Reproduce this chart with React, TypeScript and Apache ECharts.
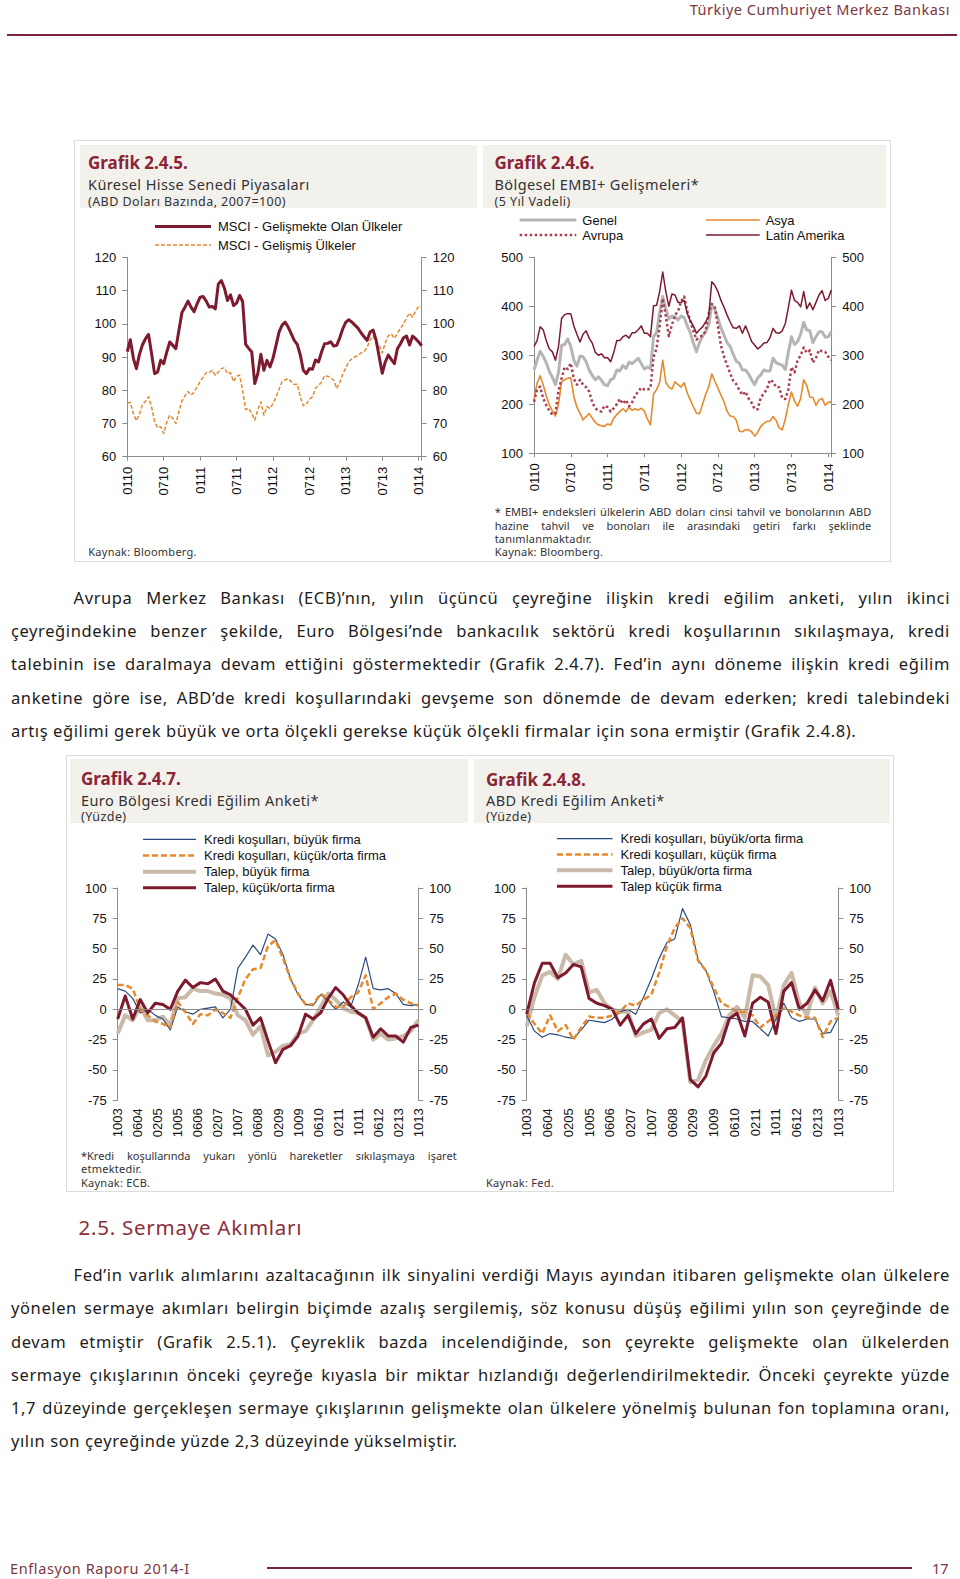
import React, { useEffect, useRef } from "react";
import * as echarts from "echarts";

// ---------------- DATA ----------------
// Grafik 2.4.5 (semi-monthly, Jan 2010 - Jan 2014)
const halfYearLabels = ["0110", "0710", "0111", "0711", "0112", "0712", "0113", "0713", "0114"];
const msciEM = [
  91.6, 95.2, 89.6, 86.5, 90.8, 93.7, 95.5, 96.8, 91.0, 85.0,
  85.5, 89.0, 88.0, 91.5, 94.5, 93.5, 92.5, 98.0, 103.4, 105.0,
  106.8, 105.0, 103.6, 106.0, 108.0, 108.2, 106.8, 105.0, 105.2, 104.5,
  112.0, 113.0, 110.7, 107.0, 108.7, 105.5, 106.2, 108.5, 106.7, 93.8,
  92.6, 91.5, 82.0, 85.0, 90.8, 86.0, 89.0, 87.0, 89.6, 93.5,
  97.5, 99.6, 100.5, 99.0, 97.0, 95.0, 93.8, 90.6, 86.0, 85.0,
  86.5, 86.3, 89.1, 88.5, 91.5, 94.0, 94.1, 94.6, 93.3, 93.5,
  95.8, 98.5, 100.5, 101.2, 100.5, 99.6, 98.7, 97.3, 96.1, 95.0,
  97.5, 98.1, 95.0, 90.0, 85.1, 88.5, 90.6, 89.2, 88.0, 92.5,
  94.0, 95.8, 96.3, 93.6, 96.3, 95.5, 94.5, 93.4,
];
const msciDeveloped = [
  76.1, 76.4, 73.0, 70.8, 72.8, 75.7, 76.7, 78.0, 75.0, 70.5,
  68.7, 69.0, 67.0, 70.3, 72.5, 71.5, 70.0, 73.5, 76.8, 78.3,
  79.6, 78.5, 79.4, 81.1, 82.6, 84.0, 85.3, 85.3, 86.0, 84.5,
  85.5, 86.5, 86.8, 85.0, 85.3, 82.6, 84.3, 84.5, 80.0, 74.2,
  74.6, 73.0, 71.0, 74.0, 76.5, 72.5, 75.1, 74.5, 76.0, 78.0,
  80.3, 82.6, 83.1, 83.5, 82.6, 81.7, 81.8, 78.0, 75.3, 75.8,
  77.3, 78.0, 80.6, 81.5, 82.4, 84.4, 84.2, 83.8, 83.0, 80.5,
  82.3, 84.8, 86.8, 88.6, 89.5, 90.0, 90.5, 91.2, 91.6, 92.9,
  95.1, 96.3, 94.1, 93.5, 91.2, 94.3, 96.4, 97.0, 95.6, 97.2,
  98.6, 99.9, 101.8, 103.2, 102.0, 103.9, 105.2, 105.2,
];

// Grafik 2.4.6 (semi-monthly)
const embiLatin = [
  318, 330, 358, 352, 330, 313, 307, 290, 318, 375,
  383, 385, 385, 360, 343, 327, 343, 350, 335, 325,
  306, 300, 303, 295, 295, 287, 305, 330, 330, 338,
  341, 335, 346, 346, 352, 360, 345, 345, 338, 401,
  402, 430, 470, 430, 400, 425, 423, 408, 408, 412,
  385, 370, 360, 345, 352, 358, 368, 380, 450, 443,
  430, 412, 398, 382, 368, 356, 355, 360, 345, 360,
  345, 328, 321, 313, 318, 325, 326, 336, 355, 346,
  345, 350, 365, 398, 433, 412, 408, 399, 430, 395,
  407, 393, 408, 423, 432, 412, 416, 433,
];
const embiGenel = [
  270, 290, 308, 298, 285, 267, 255, 240, 265, 320,
  322, 333, 318, 290, 278, 298, 297, 287, 270, 259,
  250, 256, 249, 240, 238, 250, 253, 270, 268, 279,
  273, 286, 283, 288, 294, 283, 272, 276, 273, 338,
  346, 388, 420, 395, 374, 380, 379, 372, 380, 377,
  360, 346, 325, 307, 326, 339, 348, 362, 403, 394,
  376, 356, 341, 326, 318, 302, 288, 284, 270, 270,
  262, 250, 240, 254, 260, 270, 268, 268, 294, 285,
  282, 280, 271, 306, 338, 322, 328, 343, 367, 352,
  350, 326, 338, 348, 348, 337, 338, 348,
];
const embiAvrupa = [
  205, 230, 236, 212, 198, 187, 179, 182, 228, 253,
  276, 272, 284, 252, 240, 250, 240, 235, 226, 204,
  192, 187, 185, 197, 194, 185, 192, 200, 211, 201,
  209, 196, 204, 218, 226, 234, 230, 230, 233, 296,
  315, 360, 416, 380, 339, 362, 382, 390, 410, 420,
  390, 370, 350, 332, 338, 340, 350, 385, 405, 398,
  360, 320, 297, 280, 263, 248, 241, 229, 219, 226,
  212, 203, 190, 190, 214, 222, 231, 250, 246, 235,
  235, 212, 211, 230, 276, 265, 289, 300, 316, 305,
  310, 285, 295, 311, 308, 307, 297, 290,
];
const embiAsya = [
  209, 243, 258, 240, 217, 199, 186, 176, 200, 246,
  250, 253, 254, 216, 194, 182, 168, 175, 181, 172,
  163, 158, 156, 155, 160, 158, 171, 179, 185, 191,
  185, 194, 188, 191, 188, 192, 186, 170, 158, 221,
  230, 245, 290, 245, 235, 231, 246, 240, 235, 244,
  223, 209, 195, 182, 181, 200, 220, 235, 262, 247,
  233, 219, 205, 186, 176, 175, 168, 145, 144, 148,
  148, 144, 135, 143, 155, 161, 165, 166, 175, 167,
  152, 148, 170, 200, 225, 207, 196, 212, 250, 238,
  215, 214, 198, 209, 212, 198, 204, 205,
];

// Grafik 2.4.7 / 2.4.8 (quarterly, 10/2003 - 10/2013)
const surveyLabels = ["1003", "0604", "0205", "1005", "0606", "0207", "1007", "0608", "0209", "1009", "0610", "0211", "1011", "0612", "0213", "1013"];
const ecbCondLarge = [17, 15, 9, -3, 0, -5, -8, -17, 2, -2, -4, 0, 1, 2, -7, 0, 34, 43, 53, 45, 62, 58, 45, 25, 12, 4, 3, 12, 7, 0, 6, 2, 20, 43, 17, 16, 17, 13, 4, 3, 4];
const ecbCondSme = [20, 20, 17, 0, -5, -10, -12, -15, 6, -2, -12, -4, -5, 0, -3, -7, 10, 25, 33, 34, 52, 57, 42, 25, 13, 4, 4, 13, 8, 2, 2, 10, 14, 28, 0, 5, 10, 13, 8, 5, 3];
const ecbDemandLarge = [-20, -5, -9, 2, -9, -9, -6, -13, 9, 10, 17, 15, 15, 13, 12, 9, -5, -9, -21, -14, -38, -35, -30, -29, -20, -18, -9, 2, 13, 8, 1, -2, -3, -7, -25, -20, -25, -24, -22, -18, -9];
const ecbDemandSme = [-8, 11, -8, 8, -3, 5, 4, 0, 15, 24, 18, 22, 21, 25, 15, 12, 6, 0, -13, -7, -26, -44, -33, -30, -22, -4, -8, -3, 9, 18, 12, 3, -3, -7, -23, -16, -22, -22, -27, -15, -13];

const fedCondLarge = [-5, -18, -23, -20, -21, -23, -24, -17, -9, -10, -11, -8, -2, 0, -4, 10, 25, 42, 55, 58, 83, 70, 41, 32, 15, -6, -7, -8, -10, -10, -16, -22, -8, 5, -7, -10, -8, -8, -20, -19, -7];
const fedCondSmall = [-3, -12, -20, -5, -18, -13, -25, -15, -6, -7, -7, -5, -2, 5, 3, 8, 12, 30, 52, 67, 75, 67, 40, 32, 18, 5, 2, -2, -2, -5, -15, -10, -5, 1, -2, -5, -7, -7, -23, -10, -7];
const fedDemandLarge = [-14, 10, 28, 31, 25, 45, 37, 40, 14, 16, 5, 0, -2, -2, -22, -19, -17, -3, 0, -5, -10, -60, -58, -42, -30, -20, -5, 2, -7, 28, 27, 20, -8, 20, 30, 5, -5, 18, 5, 15, -5];
const fedDemandSmall = [-4, 22, 38, 38, 26, 30, 37, 35, 9, 5, 3, 0, -13, -5, -20, -12, -8, -24, -16, -15, -7, -58, -64, -55, -36, -28, -8, -3, -22, 5, 10, 6, -20, 15, 22, 0, 5, 16, 7, 24, 0];

// ---------------- STYLE ----------------
const AXIS_GRAY = "#8c8c8c";
const CHART_FONT = '"Liberation Sans", Arial, Helvetica, sans-serif';
const BODY_FONT = '"Noto Sans", "DejaVu Sans", sans-serif';
const MAROON = "#7d1a2e";
const ORANGE = "#e6892c";
const GRAY = "#b5b5b5";
const DOTTED = "#a8404f";
const BLUE = "#2b4a7e";
const TAN = "#c9baaa";
const TITLE_RED = "#8b2535";

function yAxisPair(min: number, max: number, interval: number) {
  return ["left", "right"].map((pos) => ({
    type: "value",
    position: pos,
    min,
    max,
    interval,
    axisLine: { show: true, lineStyle: { color: AXIS_GRAY, width: 1 } },
    axisTick: { show: true, length: 5, lineStyle: { color: AXIS_GRAY } },
    axisLabel: { color: "#111", fontFamily: CHART_FONT, fontSize: 13, margin: 11 },
    splitLine: { show: false },
  }));
}

function xAxisValue(max: number, interval: number, labels: string[], showLine: boolean, margin: number) {
  return {
    type: "value",
    min: 0,
    max,
    interval,
    axisLine: { show: showLine, onZero: false, lineStyle: { color: AXIS_GRAY } },
    axisTick: { show: showLine, length: 4, lineStyle: { color: AXIS_GRAY } },
    axisLabel: {
      rotate: 90,
      margin,
      color: "#111",
      fontFamily: CHART_FONT,
      fontSize: 13,
      formatter: (v: number) => {
        const k = Math.round(v / interval);
        return Math.abs(v - k * interval) < 1e-6 && labels[k] !== undefined ? labels[k] : "";
      },
    },
    splitLine: { show: false },
  };
}

function lineSeries(name: string, values: number[], step: number, color: string, width: number, dash?: any, extra?: any) {
  return {
    name,
    type: "line",
    data: values.map((v, i) => [i * step, v]),
    symbol: "none",
    showSymbol: false,
    silent: true,
    lineStyle: { color, width, type: dash || "solid", cap: "butt", join: "round" },
    itemStyle: { color },
    emphasis: { disabled: true },
    ...(extra || {}),
  };
}

type Leg = { name: string; color: string; width: number; dash?: number[]; x1: number; x2: number; y: number };
function legendGraphics(items: Leg[], gap: number) {
  const out: any[] = [];
  items.forEach((it) => {
    out.push({
      type: "line",
      silent: true,
      shape: { x1: it.x1, y1: it.y, x2: it.x2, y2: it.y },
      style: { stroke: it.color, lineWidth: it.width, lineDash: it.dash || null },
    });
    out.push({
      type: "text",
      silent: true,
      x: it.x2 + gap,
      y: it.y,
      style: {
        text: it.name,
        fill: "#111",
        font: `13px ${CHART_FONT}`,
        align: "left",
        verticalAlign: "middle",
        textAlign: "left",
        textVerticalAlign: "middle",
      },
    });
  });
  return out;
}

const gridBase = { containLabel: false, outerBoundsMode: "none" };

// Grafik 2.4.5 option
const option245 = {
  animation: false,
  grid: { ...gridBase, left: 47.3, right: 53.3, top: 45.3, bottom: 45.3 },
  xAxis: xAxisValue(48.5, 6, halfYearLabels, true, 10),
  yAxis: yAxisPair(60, 120, 10),
  series: [
    lineSeries("MSCI - Gelişmiş Ülkeler", msciDeveloped, 0.5, ORANGE, 1.5, [4, 2]),
    lineSeries("MSCI - Gelişmekte Olan Ülkeler", msciEM, 0.5, MAROON, 3),
  ],
  graphic: legendGraphics([
    { name: "MSCI - Gelişmekte Olan Ülkeler", color: MAROON, width: 3, x1: 75, x2: 131, y: 14.5 },
    { name: "MSCI - Gelişmiş Ülkeler", color: ORANGE, width: 1.5, dash: [4, 2], x1: 75, x2: 131, y: 33 },
  ], 7),
};

// Grafik 2.4.6 option
const option246 = {
  animation: false,
  grid: { ...gridBase, left: 50, right: 47.7, top: 45.3, bottom: 48.7 },
  xAxis: xAxisValue(48.5, 6, halfYearLabels, true, 10),
  yAxis: yAxisPair(100, 500, 100),
  series: [
    lineSeries("Genel", embiGenel, 0.5, GRAY, 3),
    lineSeries("Asya", embiAsya, 0.5, ORANGE, 1.6),
    lineSeries("Avrupa", embiAvrupa, 0.5, DOTTED, 2.5, [2.5, 2.5]),
    lineSeries("Latin Amerika", embiLatin, 0.5, MAROON, 1.5),
  ],
  graphic: legendGraphics([
    { name: "Genel", color: GRAY, width: 3, x1: 35.7, x2: 92.3, y: 8 },
    { name: "Avrupa", color: DOTTED, width: 2.5, dash: [2.5, 2.5], x1: 35.7, x2: 92.3, y: 23 },
    { name: "Asya", color: ORANGE, width: 1.6, x1: 222, x2: 275.7, y: 8 },
    { name: "Latin Amerika", color: MAROON, width: 1.5, x1: 222, x2: 275.7, y: 23 },
  ], 6),
};

const zeroLine = {
  markLine: {
    silent: true,
    symbol: ["none", "none"],
    label: { show: false },
    lineStyle: { color: AXIS_GRAY, type: "solid", width: 1 },
    data: [{ yAxis: 0 }],
  },
};

function surveyOption(
  names: string[],
  cond1: number[],
  cond2: number[],
  dem1: number[],
  dem2: number[],
  gridLeft: number,
  legX1: number,
  legX2: number,
  legY: number[]
) {
  return {
    animation: false,
    grid: { ...gridBase, left: gridLeft, right: 49.7, top: 58, bottom: 39.7 },
    xAxis: xAxisValue(120, 8, surveyLabels, false, 8),
    yAxis: yAxisPair(-75, 100, 25),
    series: [
      lineSeries(names[2], dem1, 3, TAN, 4, undefined, zeroLine),
      lineSeries(names[0], cond1, 3, BLUE, 1.2),
      lineSeries(names[1], cond2, 3, ORANGE, 2.5, [6, 3]),
      lineSeries(names[3], dem2, 3, MAROON, 3),
    ],
    graphic: legendGraphics([
      { name: names[0], color: BLUE, width: 1.2, x1: legX1, x2: legX2, y: legY[0] },
      { name: names[1], color: ORANGE, width: 2.5, dash: [6, 3], x1: legX1, x2: legX2, y: legY[1] },
      { name: names[2], color: TAN, width: 4, x1: legX1, x2: legX2, y: legY[2] },
      { name: names[3], color: MAROON, width: 3, x1: legX1, x2: legX2, y: legY[3] },
    ], 8),
  };
}

const option247 = surveyOption(
  ["Kredi koşulları, büyük firma", "Kredi koşulları, küçük/orta firma", "Talep, büyük firma", "Talep, küçük/orta firma"],
  ecbCondLarge, ecbCondSme, ecbDemandLarge, ecbDemandSme,
  47.7, 73, 126, [9.3, 25.6, 41.7, 57.8]
);
const option248 = surveyOption(
  ["Kredi koşulları, büyük/orta firma", "Kredi koşulları, küçük firma", "Talep, büyük/orta firma", "Talep küçük firma"],
  fedCondLarge, fedCondSmall, fedDemandLarge, fedDemandSmall,
  52.7, 83, 138.5, [8.7, 24.5, 40.3, 56.3]
);

// ---------------- COMPONENTS ----------------
function EChart({ option, style }: { option: any; style: React.CSSProperties }) {
  const ref = useRef<HTMLDivElement>(null);
  useEffect(() => {
    const chart = echarts.init(ref.current as HTMLDivElement, undefined, { renderer: "svg" });
    chart.setOption(option);
    return () => chart.dispose();
  }, [option]);
  return <div ref={ref} style={{ position: "absolute", ...style }} />;
}

function T({ x, y, text, size, color = "#222", weight = 400, right, ls = 0, lh }: { x?: number; y: number; text: string; size: number; color?: string; weight?: number; right?: number; ls?: number; lh?: number }) {
  const h = lh || Math.round(size * 1.4);
  const st: React.CSSProperties = {
    position: "absolute",
    top: y - h / 2,
    height: h,
    lineHeight: h + "px",
    fontSize: size,
    fontFamily: BODY_FONT,
    color,
    fontWeight: weight,
    letterSpacing: ls,
    whiteSpace: "nowrap",
  };
  if (right !== undefined) st.right = right;
  else st.left = x;
  return <div style={st}>{text}</div>;
}

function J({ x, y, w, text, size, color = "#222", ls = 0 }: { x: number; y: number; w: number; text: string; size: number; color?: string; ls?: number }) {
  const lh = Math.round(size * 1.4);
  const words = text.split(" ");
  return (
    <div
      style={{
        position: "absolute",
        left: x,
        top: y - lh / 2,
        width: w,
        height: lh,
        lineHeight: lh + "px",
        display: "flex",
        justifyContent: "space-between",
        whiteSpace: "nowrap",
        fontSize: size,
        fontFamily: BODY_FONT,
        letterSpacing: ls,
        color,
      }}
    >
      {words.map((wd, i) => (
        <span key={i}>{wd}</span>
      ))}
    </div>
  );
}

function Box({ x, y, w, h, bg, border }: { x: number; y: number; w: number; h: number; bg?: string; border?: string }) {
  return <div style={{ position: "absolute", left: x, top: y, width: w, height: h, background: bg || "transparent", border: border || "none", boxSizing: "border-box" }} />;
}

const para1 = [
  "Avrupa Merkez Bankası (ECB)’nın, yılın üçüncü çeyreğine ilişkin kredi eğilim anketi, yılın ikinci",
  "çeyreğindekine benzer şekilde, Euro Bölgesi’nde bankacılık sektörü kredi koşullarının sıkılaşmaya, kredi",
  "talebinin ise daralmaya devam ettiğini göstermektedir (Grafik 2.4.7). Fed’in aynı döneme ilişkin kredi eğilim",
  "anketine göre ise, ABD’de kredi koşullarındaki gevşeme son dönemde de devam ederken; kredi talebindeki",
  "artış eğilimi gerek büyük ve orta ölçekli gerekse küçük ölçekli firmalar için sona ermiştir (Grafik 2.4.8).",
];
const para1Y = [597.3, 630.6, 663.8, 697, 730.3];
const para2 = [
  "Fed’in varlık alımlarını azaltacağının ilk sinyalini verdiği Mayıs ayından itibaren gelişmekte olan ülkelere",
  "yönelen sermaye akımları belirgin biçimde azalış sergilemiş, söz konusu düşüş eğilimi yılın son çeyreğinde de",
  "devam etmiştir (Grafik 2.5.1). Çeyreklik bazda incelendiğinde, son çeyrekte gelişmekte olan ülkelerden",
  "sermaye çıkışlarının önceki çeyreğe kıyasla bir miktar hızlandığı değerlendirilmektedir. Önceki çeyrekte yüzde",
  "1,7 düzeyinde gerçekleşen sermaye çıkışlarının gelişmekte olan ülkelere yönelmiş bulunan fon toplamına oranı,",
  "yılın son çeyreğinde yüzde 2,3 düzeyinde yükselmiştir.",
];
const para2Y = [1274, 1307.5, 1341, 1374, 1407, 1440.5];

function Paragraph({ lines, ys }: { lines: string[]; ys: number[] }) {
  return (
    <>
      {lines.map((ln, i) => {
        const first = i === 0;
        const last = i === lines.length - 1;
        const x = first ? 73.5 : 11;
        const w = 950 - x;
        return last ? (
          <T key={i} x={x} y={ys[i]} text={ln} size={16.5} ls={0.6} color="#1c1c1c" />
        ) : (
          <J key={i} x={x} y={ys[i]} w={w} text={ln} size={16.5} ls={0.6} color="#1c1c1c" />
        );
      })}
    </>
  );
}

export default function App() {
  const BEIGE = "#f3f1ec";
  const BORDER = "1px solid #dcdcdc";
  const NOTE = "#333";
  return (
    <div style={{ position: "absolute", left: 0, top: 0, width: 960, height: 1579, background: "#fff", overflow: "hidden" }}>
      {/* header */}
      <T right={10} y={9.5} lh={17} text="Türkiye Cumhuriyet Merkez Bankası" size={14.5} ls={0.5} color="#7d3542" />
      <Box x={7} y={34} w={950} h={2} bg="#7b2338" />

      {/* top chart box */}
      <Box x={74} y={140} w={817} h={422} border={BORDER} />
      <Box x={80} y={145} w={397} h={63} bg={BEIGE} />
      <Box x={483} y={145} w={403} h={63} bg={BEIGE} />
      <T x={88} y={163} text="Grafik 2.4.5." size={17} weight={700} color={TITLE_RED} />
      <T x={88} y={183.5} text="Küresel Hisse Senedi Piyasaları" size={14.5} ls={0.4} color="#333" />
      <T x={88} y={201.5} text="(ABD Doları Bazında, 2007=100)" size={12.5} ls={0.43} color="#333" />
      <T x={494.5} y={163} text="Grafik 2.4.6." size={17} weight={700} color={TITLE_RED} />
      <T x={494.5} y={183.5} text="Bölgesel EMBI+ Gelişmeleri*" size={14.5} ls={0.4} color="#333" />
      <T x={494.5} y={201.5} text="(5 Yıl Vadeli)" size={12.5} ls={0.43} color="#333" />

      <EChart option={option245} style={{ left: 80, top: 212, width: 395, height: 290 }} />
      <EChart option={option246} style={{ left: 484, top: 212, width: 395, height: 290 }} />

      <T x={88.3} y={551.7} text="Kaynak: Bloomberg." size={11} ls={0.25} color={NOTE} />
      <J x={494.7} y={511.7} w={376.6} text="* EMBI+ endeksleri ülkelerin ABD doları cinsi tahvil ve bonolarının ABD" size={11} color={NOTE} />
      <J x={494.7} y={525} w={376.6} text="hazine tahvil ve bonoları ile arasındaki getiri farkı şeklinde" size={11} color={NOTE} />
      <T x={494.7} y={538.3} text="tanımlanmaktadır." size={11} ls={0.2} color={NOTE} />
      <T x={494.7} y={551.7} text="Kaynak: Bloomberg." size={11} ls={0.25} color={NOTE} />

      {/* paragraph 1 */}
      <Paragraph lines={para1} ys={para1Y} />

      {/* bottom chart box */}
      <Box x={66} y={755} w={828} h={437} border={BORDER} />
      <Box x={70} y={759} w={398} h={64} bg={BEIGE} />
      <Box x={474} y={759} w={416} h={64} bg={BEIGE} />
      <T x={81} y={779} text="Grafik 2.4.7." size={17} weight={700} color={TITLE_RED} />
      <T x={81} y={799.5} text="Euro Bölgesi Kredi Eğilim Anketi*" size={14.5} ls={0.4} color="#333" />
      <T x={81} y={817} text="(Yüzde)" size={12.5} ls={0.43} color="#333" />
      <T x={486} y={779.5} text="Grafik 2.4.8." size={17} weight={700} color={TITLE_RED} />
      <T x={486} y={799.5} text="ABD Kredi Eğilim Anketi*" size={14.5} ls={0.4} color="#333" />
      <T x={486} y={817} text="(Yüzde)" size={12.5} ls={0.43} color="#333" />

      <EChart option={option247} style={{ left: 70, top: 830, width: 398, height: 310 }} />
      <EChart option={option248} style={{ left: 474, top: 830, width: 414, height: 310 }} />

      <J x={81} y={1155.5} w={375.7} text="*Kredi koşullarında yukarı yönlü hareketler sıkılaşmaya işaret" size={11} color={NOTE} />
      <T x={81} y={1168.8} text="etmektedir." size={11} ls={0.25} color={NOTE} />
      <T x={81} y={1182.6} text="Kaynak: ECB." size={11} ls={0.25} color={NOTE} />
      <T x={486} y={1182.6} text="Kaynak: Fed." size={11} ls={0.25} color={NOTE} />

      {/* section heading */}
      <T x={78.5} y={1227} text="2.5. Sermaye Akımları" size={20.5} ls={0.75} color="#8b2d3b" />

      {/* paragraph 2 */}
      <Paragraph lines={para2} ys={para2Y} />

      {/* footer */}
      <T x={10} y={1568} lh={17} text="Enflasyon Raporu  2014-I" size={14.5} ls={0.6} color="#7d3542" />
      <Box x={267} y={1567} w={645} h={2} bg="#7b2338" />
      <T x={932} y={1568} lh={17} text="17" size={14.5} color="#7d3542" />
    </div>
  );
}
